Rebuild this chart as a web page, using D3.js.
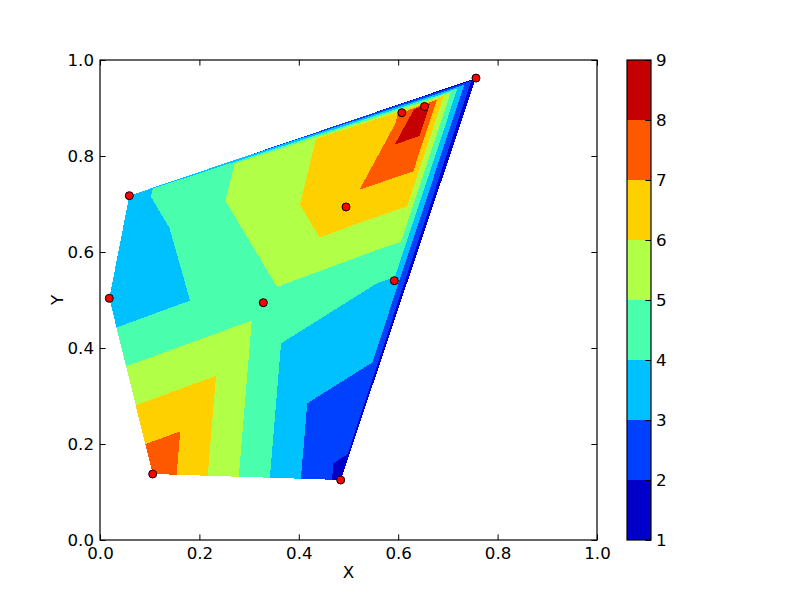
<!DOCTYPE html>
<html><head><meta charset="utf-8">
<script src="https://cdn.jsdelivr.net/npm/d3@7"></script>
<style>
body{margin:0;background:#fff}
text{font-family:"DejaVu Sans",sans-serif;fill:#000}
</style>
</head><body>
<svg id="chart" width="800" height="600"></svg>
<script>
// ---- data ----
const pointX = [0.0590, 0.0187, 0.1060, 0.3286, 0.4843, 0.5922, 0.4950, 0.6072, 0.6529, 0.7565];
const pointY = [0.7173, 0.5035, 0.1375, 0.4944, 0.1250, 0.5402, 0.6938, 0.8902, 0.9031, 0.9623];
const pointZ = [3.71, 3.25, 7.77, 4.68, 1.72, 3.89, 6.62, 7.05, 8.84, 1.30];
const levels = [1, 2, 3, 4, 5, 6, 7, 8, 9];
const xTicks = [0.0, 0.2, 0.4, 0.6, 0.8, 1.0];
const yTicks = [0.0, 0.2, 0.4, 0.6, 0.8, 1.0];
const cbTicks = [1, 2, 3, 4, 5, 6, 7, 8, 9];

// ---- layout ----
const svg = d3.select("#chart");
const x = d3.scaleLinear().domain([0, 1]).range([100, 597]);
const y = d3.scaleLinear().domain([0, 1]).range([540, 60]);
const FS = 16.67;

// ---- jet colormap (matplotlib, 256 LUT) ----
const jetData = {
  r: [[0,0],[0.35,0],[0.66,1],[0.89,1],[1,0.5]],
  g: [[0,0],[0.125,0],[0.375,1],[0.64,1],[0.91,0],[1,0]],
  b: [[0,0.5],[0.11,1],[0.34,1],[0.65,0],[1,0]]
};
function segInterp(d, t) {
  for (let i = 1; i < d.length; i++) {
    if (t <= d[i][0]) {
      const [x0, y0] = d[i-1], [x1, y1] = d[i];
      return y0 + (y1 - y0) * (t - x0) / (x1 - x0);
    }
  }
  return d[d.length-1][1];
}
function jet(t) {
  const idx = Math.max(0, Math.min(255, Math.floor(t * 256)));
  const u = idx / 255;
  return d3.rgb(Math.round(segInterp(jetData.r, u) * 255),
                Math.round(segInterp(jetData.g, u) * 255),
                Math.round(segInterp(jetData.b, u) * 255)).toString();
}
const norm = d3.scaleLinear().domain([levels[0], levels[levels.length-1]]).range([0, 1]);
const bandColors = levels.slice(0, -1).map((l, i) => jet(norm((l + levels[i+1]) / 2)));

// ---- triangulation (data coords) ----
const pts = pointX.map((px, i) => [px, pointY[i]]);
const delaunay = d3.Delaunay.from(pts);
const tris = [];
for (let i = 0; i < delaunay.triangles.length; i += 3) {
  tris.push([delaunay.triangles[i], delaunay.triangles[i+1], delaunay.triangles[i+2]]);
}

function clipPoly(poly, val, keepAbove) {
  const out = [];
  const inside = p => keepAbove ? p[2] >= val : p[2] <= val;
  for (let i = 0; i < poly.length; i++) {
    const a = poly[i], b = poly[(i+1) % poly.length];
    const ia = inside(a), ib = inside(b);
    if (ia) out.push(a);
    if (ia !== ib) {
      const t = (val - a[2]) / (b[2] - a[2]);
      out.push([a[0] + t*(b[0]-a[0]), a[1] + t*(b[1]-a[1]), val]);
    }
  }
  return out;
}

const plot = svg.append("g");
tris.forEach(tri => {
  const poly = tri.map(k => [pointX[k], pointY[k], pointZ[k]]);
  for (let b = 0; b < levels.length - 1; b++) {
    let p = clipPoly(poly, levels[b], true);
    if (p.length < 3) continue;
    p = clipPoly(p, levels[b+1], false);
    if (p.length < 3) continue;
    plot.append("path")
      .attr("d", "M" + p.map(q => x(q[0]) + "," + y(q[1])).join("L") + "Z")
      .attr("fill", bandColors[b])
      .attr("stroke", "none")
      .attr("shape-rendering", "crispEdges");
  }
});

// ---- scatter ----
svg.append("g").selectAll("circle").data(pts).join("circle")
  .attr("cx", d => x(d[0])).attr("cy", d => y(d[1])).attr("r", 4)
  .attr("fill", "#ff0000").attr("stroke", "#000").attr("stroke-width", 1);

// ---- axes ----
const TL = 5.6;
function styleAxis(g) {
  g.select(".domain").remove();
  g.selectAll("line").attr("stroke", "#000").attr("stroke-width", 1);
  g.selectAll("text").attr("font-size", FS).attr("font-family", "DejaVu Sans").attr("fill", "#000");
}
svg.append("g").attr("transform", "translate(0,540)")
  .call(d3.axisBottom(x).tickValues(xTicks).tickFormat(d3.format(".1f")).tickSizeInner(-TL).tickSizeOuter(0).tickPadding(7))
  .call(styleAxis);
svg.append("g").attr("transform", "translate(0,60)")
  .call(d3.axisTop(x).tickValues(xTicks).tickFormat("").tickSizeInner(-TL).tickSizeOuter(0))
  .call(styleAxis);
svg.append("g").attr("transform", "translate(100,0)")
  .call(d3.axisLeft(y).tickValues(yTicks).tickFormat(d3.format(".1f")).tickSizeInner(-TL).tickSizeOuter(0).tickPadding(6))
  .call(styleAxis);
svg.append("g").attr("transform", "translate(597,0)")
  .call(d3.axisRight(y).tickValues(yTicks).tickFormat("").tickSizeInner(-TL).tickSizeOuter(0))
  .call(styleAxis);
svg.append("rect").attr("x", 100).attr("y", 60).attr("width", 497).attr("height", 480)
  .attr("fill", "none").attr("stroke", "#000").attr("stroke-width", 1.2);

svg.append("text").attr("x", 348.5).attr("y", 578).attr("text-anchor", "middle")
  .attr("font-size", FS).text("X");
svg.append("text").attr("transform", "translate(63,300) rotate(-90)").attr("text-anchor", "middle")
  .attr("font-size", FS).text("Y");

// ---- colorbar ----
const cbX0 = 627, cbX1 = 651;
const cy = d3.scaleLinear().domain([levels[0], levels[levels.length-1]]).range([540, 60]);
const cb = svg.append("g");
cb.selectAll("rect.band").data(levels.slice(0, -1)).join("rect")
  .attr("x", cbX0).attr("width", cbX1 - cbX0)
  .attr("y", (d, i) => cy(levels[i+1])).attr("height", (d, i) => cy(levels[i]) - cy(levels[i+1]))
  .attr("fill", (d, i) => bandColors[i]).attr("shape-rendering", "crispEdges");
svg.append("g").attr("transform", `translate(${cbX1},0)`)
  .call(d3.axisRight(cy).tickValues(cbTicks).tickFormat(d3.format("d")).tickSizeInner(-TL).tickSizeOuter(0).tickPadding(5))
  .call(styleAxis);
svg.append("rect").attr("x", cbX0).attr("y", 60).attr("width", cbX1 - cbX0).attr("height", 480)
  .attr("fill", "none").attr("stroke", "#000").attr("stroke-width", 1.2);
</script>
</body></html>
